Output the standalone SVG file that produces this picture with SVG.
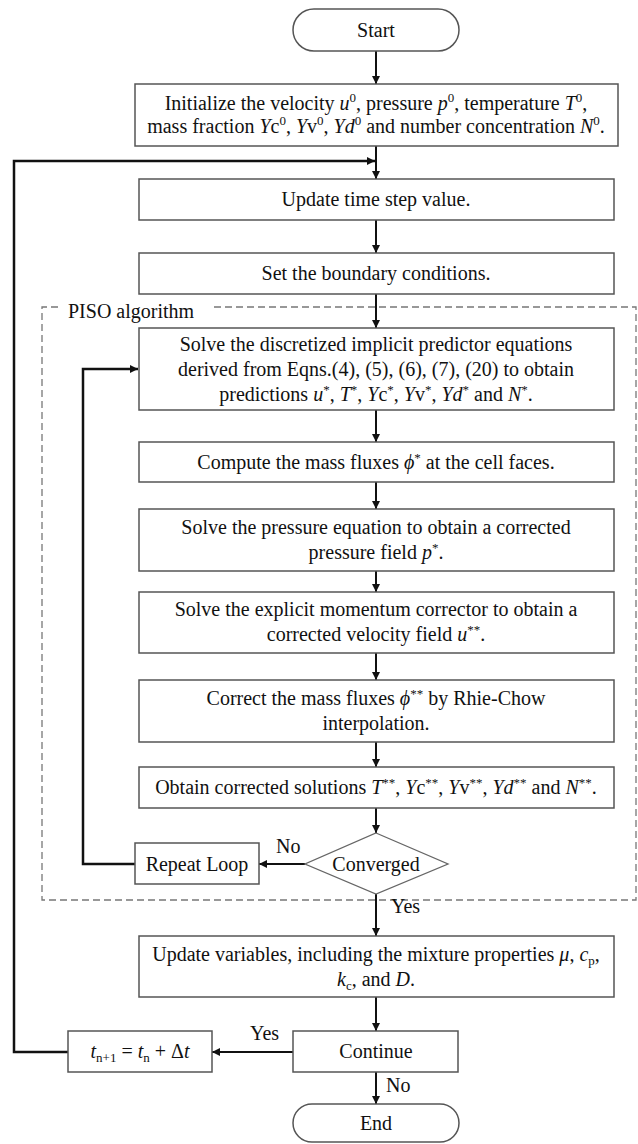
<svg xmlns="http://www.w3.org/2000/svg" width="638" height="1144" viewBox="0 0 638 1144">
<style>
.box{fill:#fff;stroke:#555;stroke-width:1.5}
.dia{fill:#fff;stroke:#666;stroke-width:1.3}
.t{font-family:"Liberation Serif","Times New Roman",serif;font-size:20px;fill:#111;text-anchor:middle}
.l{font-family:"Liberation Serif","Times New Roman",serif;font-size:20px;fill:#111}
.i{font-style:italic}
.sup{font-size:13px}
.sub{font-size:13px}
.c{stroke:#111;stroke-width:2;fill:none}
.loop{stroke:#111;stroke-width:2.5;fill:none}
.piso{fill:none;stroke:#777;stroke-width:1.3;stroke-dasharray:7 4}
</style>
<defs>
<marker id="ah" viewBox="0 0 10 10" refX="10" refY="5" markerWidth="5" markerHeight="5" markerUnits="userSpaceOnUse" orient="auto">
<path d="M0,0 L10,5 L0,10 z" fill="#111"/>
</marker>
<marker id="ah2" viewBox="0 0 10 10" refX="10" refY="5" markerWidth="9" markerHeight="8" orient="auto" markerUnits="userSpaceOnUse">
<path d="M0,0 L10,5 L0,10 z" fill="#111"/>
</marker>
</defs>

<g id="piso-frame">
<path class="piso" d="M58,307 L42,307 L42,900 L636,900 L636,307 L214,307"/>
<text class="l" x="68" y="318">PISO algorithm</text>
</g>

<g id="connectors">
<line class="c" x1="376" y1="51" x2="376" y2="84" marker-end="url(#ah2)"/>
<line class="c" x1="376" y1="146" x2="376" y2="179" marker-end="url(#ah2)"/>
<line class="c" x1="376" y1="220" x2="376" y2="253" marker-end="url(#ah2)"/>
<line class="c" x1="376" y1="294" x2="376" y2="328" marker-end="url(#ah2)"/>
<line class="c" x1="376" y1="410" x2="376" y2="442" marker-end="url(#ah2)"/>
<line class="c" x1="376" y1="482" x2="376" y2="509" marker-end="url(#ah2)"/>
<line class="c" x1="376" y1="571" x2="376" y2="592" marker-end="url(#ah2)"/>
<line class="c" x1="376" y1="653" x2="376" y2="680" marker-end="url(#ah2)"/>
<line class="c" x1="376" y1="742" x2="376" y2="767" marker-end="url(#ah2)"/>
<line class="c" x1="376" y1="808" x2="376" y2="833" marker-end="url(#ah2)"/>
<line class="c" x1="305" y1="864" x2="259" y2="864" marker-end="url(#ah2)"/>
<text class="l" x="276" y="853">No</text>
<polyline class="loop" points="135,864 83,864 83,369 138,369" marker-end="url(#ah2)"/>
<line class="c" x1="376" y1="894" x2="376" y2="936" marker-end="url(#ah2)"/>
<text class="l" x="391" y="913">Yes</text>
<line class="c" x1="376" y1="997" x2="376" y2="1031" marker-end="url(#ah2)"/>
<line class="c" x1="293" y1="1052" x2="212" y2="1052" marker-end="url(#ah2)"/>
<text class="l" x="250" y="1040">Yes</text>
<polyline class="loop" points="68,1052 14,1052 14,161 375,161" marker-end="url(#ah2)"/>
<line class="c" x1="376" y1="1072" x2="376" y2="1104" marker-end="url(#ah2)"/>
<text class="l" x="386" y="1092">No</text>
</g>

<g id="start">
<rect class="box" x="293" y="9" width="166" height="42" rx="21"/>
<text class="t" x="376" y="37">Start</text>
</g>

<g id="init">
<rect class="box" x="135" y="84" width="483" height="62"/>
<text class="t" x="376" y="110">Initialize the velocity <tspan class="i">u</tspan><tspan class="sup" dy="-8">0</tspan><tspan dy="8">, pressure </tspan><tspan class="i">p</tspan><tspan class="sup" dy="-8">0</tspan><tspan dy="8">, temperature </tspan><tspan class="i">T</tspan><tspan class="sup" dy="-8">0</tspan><tspan dy="8">,</tspan></text>
<text class="t" x="376" y="133">mass fraction <tspan class="i">Y</tspan>c<tspan class="sup" dy="-8">0</tspan><tspan dy="8">, </tspan><tspan class="i">Y</tspan>v<tspan class="sup" dy="-8">0</tspan><tspan dy="8">, </tspan><tspan class="i">Yd</tspan><tspan class="sup" dy="-8">0</tspan><tspan dy="8"> and number concentration </tspan><tspan class="i">N</tspan><tspan class="sup" dy="-8">0</tspan><tspan dy="8">.</tspan></text>
</g>

<g id="update-time">
<rect class="box" x="139" y="179" width="475" height="41"/>
<text class="t" x="376" y="206">Update time step value.</text>
</g>

<g id="boundary">
<rect class="box" x="139" y="253" width="475" height="41"/>
<text class="t" x="376" y="280">Set the boundary conditions.</text>
</g>

<g id="predictor">
<rect class="box" x="139" y="328" width="475" height="82"/>
<text class="t" x="376" y="351">Solve the discretized implicit predictor equations</text>
<text class="t" x="376" y="376">derived from Eqns.(4), (5), (6), (7), (20) to obtain</text>
<text class="t" x="376" y="401">predictions <tspan class="i">u</tspan><tspan class="sup" dy="-7">*</tspan><tspan dy="7">, </tspan><tspan class="i">T</tspan><tspan class="sup" dy="-7">*</tspan><tspan dy="7">, </tspan><tspan class="i">Y</tspan>c<tspan class="sup" dy="-7">*</tspan><tspan dy="7">, </tspan><tspan class="i">Y</tspan>v<tspan class="sup" dy="-7">*</tspan><tspan dy="7">, </tspan><tspan class="i">Yd</tspan><tspan class="sup" dy="-7">*</tspan><tspan dy="7"> and </tspan><tspan class="i">N</tspan><tspan class="sup" dy="-7">*</tspan><tspan dy="7">.</tspan></text>
</g>

<g id="fluxes">
<rect class="box" x="139" y="442" width="475" height="40"/>
<text class="t" x="376" y="469">Compute the mass fluxes  <tspan class="i">ϕ</tspan><tspan class="sup" dy="-7">*</tspan><tspan dy="7"> at the cell faces.</tspan></text>
</g>

<g id="pressure">
<rect class="box" x="139" y="509" width="475" height="62"/>
<text class="t" x="376" y="534">Solve the pressure equation to obtain a corrected</text>
<text class="t" x="376" y="559">pressure field <tspan class="i">p</tspan><tspan class="sup" dy="-7">*</tspan><tspan dy="7">.</tspan></text>
</g>

<g id="momentum">
<rect class="box" x="139" y="592" width="475" height="61"/>
<text class="t" x="376" y="616">Solve the explicit momentum corrector to obtain a</text>
<text class="t" x="376" y="641">corrected velocity field <tspan class="i">u</tspan><tspan class="sup" dy="-7">**</tspan><tspan dy="7">.</tspan></text>
</g>

<g id="rhie-chow">
<rect class="box" x="139" y="680" width="475" height="62"/>
<text class="t" x="376" y="705">Correct the mass fluxes <tspan class="i">ϕ</tspan><tspan class="sup" dy="-7">**</tspan><tspan dy="7"> by Rhie-Chow</tspan></text>
<text class="t" x="376" y="730">interpolation.</text>
</g>

<g id="corrected">
<rect class="box" x="139" y="767" width="475" height="41"/>
<text class="t" x="376" y="794">Obtain corrected solutions <tspan class="i">T</tspan><tspan class="sup" dy="-7">**</tspan><tspan dy="7">, </tspan><tspan class="i">Y</tspan>c<tspan class="sup" dy="-7">**</tspan><tspan dy="7">, </tspan><tspan class="i">Y</tspan>v<tspan class="sup" dy="-7">**</tspan><tspan dy="7">, </tspan><tspan class="i">Yd</tspan><tspan class="sup" dy="-7">**</tspan><tspan dy="7"> and </tspan><tspan class="i">N</tspan><tspan class="sup" dy="-7">**</tspan><tspan dy="7">.</tspan></text>
</g>

<g id="converged">
<polygon class="dia" points="376,833 448,864 376,894 305,864"/>
<text class="t" x="376" y="871">Converged</text>
</g>

<g id="repeat">
<rect class="box" x="135" y="843" width="124" height="41"/>
<text class="t" x="197" y="871">Repeat Loop</text>
</g>

<g id="update-vars">
<rect class="box" x="139" y="936" width="475" height="61"/>
<text class="t" x="376" y="961">Update variables, including the mixture properties <tspan class="i">μ</tspan>, <tspan class="i">c</tspan><tspan class="sub" dy="4">p</tspan><tspan dy="-4">,</tspan></text>
<text class="t" x="376" y="986"><tspan class="i">k</tspan><tspan class="sub" dy="4">c</tspan><tspan dy="-4">, and </tspan><tspan class="i">D</tspan>.</text>
</g>

<g id="continue">
<rect class="box" x="293" y="1031" width="165" height="41"/>
<text class="t" x="376" y="1058">Continue</text>
</g>

<g id="time-advance">
<rect class="box" x="68" y="1031" width="144" height="41"/>
<text class="t" x="140" y="1058"><tspan class="i">t</tspan><tspan class="sub" dy="4">n+1</tspan><tspan dy="-4"> = </tspan><tspan class="i">t</tspan><tspan class="sub" dy="4">n</tspan><tspan dy="-4"> + Δ</tspan><tspan class="i">t</tspan></text>
</g>

<g id="end">
<rect class="box" x="293" y="1104" width="166" height="38" rx="19"/>
<text class="t" x="376" y="1130">End</text>
</g>
</svg>
